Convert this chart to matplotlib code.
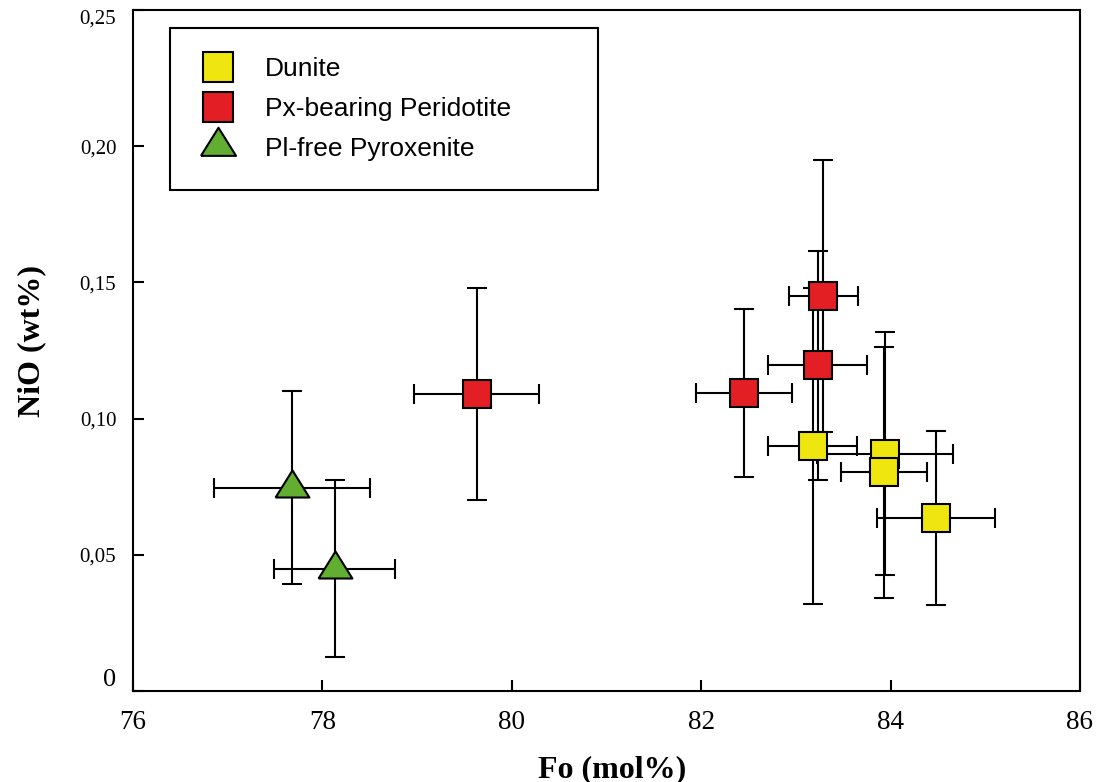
import numpy as np
import matplotlib.pyplot as plt
from matplotlib.lines import Line2D

# Fo (mol%) / NiO (wt%) with 1-sigma style error bars
dun_fo = [83.18, 83.94, 83.93, 84.48]
dun_nio = [0.090, 0.0871, 0.0803, 0.0635]
dun_xerr = [0.47, 0.72, 0.45, 0.62]
dun_yerr = [0.058, 0.0447, 0.046, 0.032]

per_fo = [79.63, 82.45, 83.23, 83.29]
per_nio = [0.109, 0.1094, 0.1195, 0.145]
per_xerr = [0.66, 0.51, 0.52, 0.365]
per_yerr = [0.039, 0.031, 0.042, 0.050]

pyx_fo = [77.68, 78.13]
pyx_nio = [0.0746, 0.0449]
pyx_xerr = [0.82, 0.64]
pyx_yerr = [0.0355, 0.0325]

xticks = [76, 78, 80, 82, 84, 86]
yticks = [0, 0.05, 0.10, 0.15, 0.20, 0.25]
ytick_labels = ['0', '0,05', '0,10', '0,15', '0,20', '0,25']

YELLOW = '#f0e60f'
RED = '#e31e24'
GREEN = '#62ae30'

plt.rcParams['font.family'] = 'Liberation Serif'
plt.rcParams['xtick.labelsize'] = 19.5
plt.rcParams['ytick.labelsize'] = 15

# wider-than-tall triangle, centred on its centroid
tri = [(-1.0, -0.533), (1.0, -0.533), (0.0, 1.067), (-1.0, -0.533)]

fig = plt.figure(figsize=(10.99, 7.82), dpi=100)
ax = fig.add_axes([0.121, 0.1164, 0.8617, 0.8708])

eb = dict(ecolor='black', elinewidth=1.5, capsize=7.5, capthick=1.5,
          mec='black', mew=1.5, ls='none')

ax.errorbar(dun_fo, dun_nio, xerr=dun_xerr, yerr=dun_yerr, fmt='s',
            ms=20, mfc=YELLOW, **eb)
ax.errorbar(per_fo, per_nio, xerr=per_xerr, yerr=per_yerr, fmt='s',
            ms=20, mfc=RED, **eb)
ax.errorbar(pyx_fo, pyx_nio, xerr=pyx_xerr, yerr=pyx_yerr, marker=tri,
            ms=26, mfc=GREEN, **eb)

ax.set_xlim(76, 86)
ax.set_ylim(0, 0.25)
ax.set_xticks(xticks)
ax.set_xticklabels([str(v) for v in xticks])
ax.set_yticks(yticks)
ylabs = ax.set_yticklabels(ytick_labels)
ylabs[0].set_fontsize(19)
ylabs[0].set_va('bottom')
ylabs[-1].set_va('top')
ax.tick_params(direction='in', length=8, width=1.5, top=False, right=False)
ax.tick_params(axis='x', pad=14)
ax.tick_params(axis='y', pad=12)
for sp in ax.spines.values():
    sp.set_linewidth(1.5)

ax.set_xlabel('Fo (mol%)', fontsize=23, fontweight='bold', labelpad=14)
ax.set_ylabel('NiO (wt%)', fontsize=23, fontweight='bold', labelpad=24)
ax.xaxis.label.set_x(0.506)
ax.yaxis.label.set_y(0.514)

handles = [
    Line2D([], [], ls='none', marker='s', ms=22, mfc=YELLOW, mec='black', mew=1.5),
    Line2D([], [], ls='none', marker='s', ms=22, mfc=RED, mec='black', mew=1.5),
    Line2D([], [], ls='none', marker=tri, ms=27, mfc=GREEN, mec='black', mew=1.5),
]
labels = ['Dunite', 'Px-bearing Peridotite', 'Pl-free Pyroxenite']
leg = ax.legend(handles, labels, loc='upper left',
                bbox_to_anchor=(0.039, 0.9736, 0.452, 0.0), mode='expand',
                borderaxespad=0, borderpad=1.1, handlelength=1.45,
                handletextpad=1.04, labelspacing=0.6, fancybox=False,
                framealpha=1, edgecolor='black',
                prop={'family': 'Liberation Sans', 'size': 19})
leg.get_frame().set_linewidth(1.5)

fig.savefig('out.png', dpi=100)
